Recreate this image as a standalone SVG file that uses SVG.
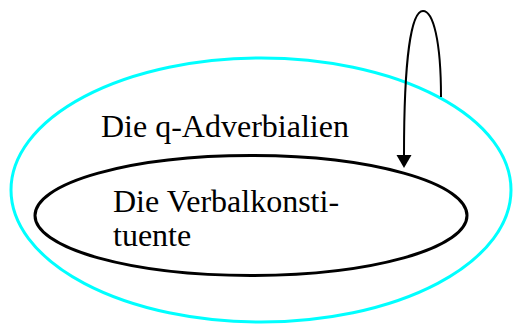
<svg xmlns="http://www.w3.org/2000/svg" width="513" height="325" viewBox="0 0 513 325">
<style>
.lbl{font-family:"Liberation Serif","Times New Roman",serif;font-size:32px;fill:#000}
.edge{fill:none;stroke:#000;stroke-width:2}
</style>
<defs>
<marker id="arr" markerWidth="14" markerHeight="16" refX="0" refY="7.5" orient="auto" markerUnits="userSpaceOnUse">
<path d="M0,0 L13,7.5 L0,15 Z" fill="#000"/>
</marker>
</defs>
<rect width="513" height="325" fill="#fff"/>
<g id="outer">
<ellipse cx="261" cy="190" rx="250" ry="132" fill="none" stroke="#00ffff" stroke-width="3"/>
<text class="lbl" x="101" y="137">Die q-Adverbialien</text>
</g>
<g id="inner">
<ellipse cx="251" cy="215.5" rx="216" ry="60" fill="none" stroke="#000" stroke-width="3"/>
<text class="lbl" x="113" y="212">Die Verbalkonsti-</text>
<text class="lbl" x="113" y="246">tuente</text>
</g>
<g id="connectors">
<path class="edge" d="M441,97 C441,40 433,11 423,11 C411,11 404,60 404,155" marker-end="url(#arr)"/>
</g>
</svg>
